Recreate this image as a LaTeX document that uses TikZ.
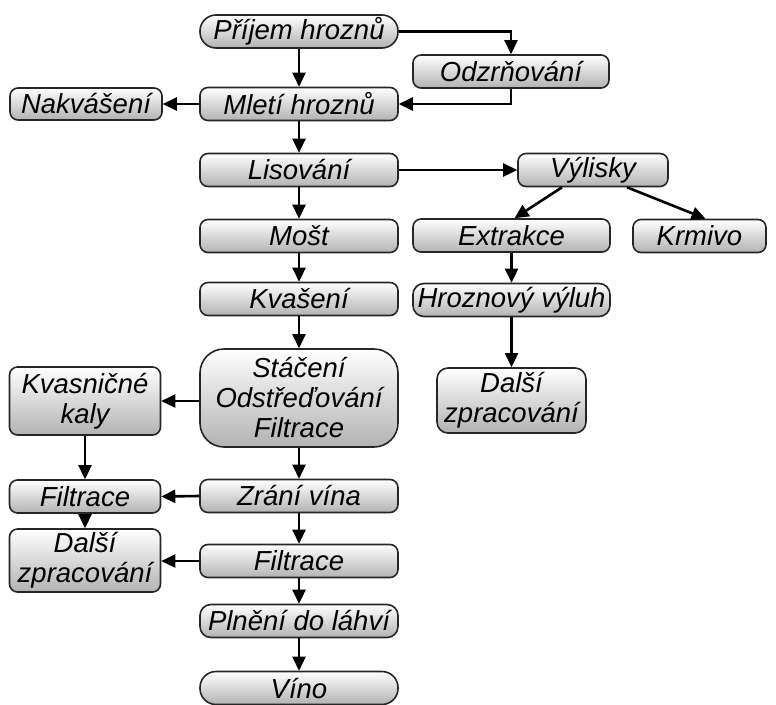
\documentclass[tikz,border=0pt]{standalone}
\usepackage{fontspec}
\setmainfont{Liberation Sans}
\usetikzlibrary{arrows.meta}
\begin{document}
\begin{tikzpicture}[x=1pt,y=-1pt,
  box/.style={draw=black!85, line width=1.6pt, rounded corners=8pt,
    top color=white, bottom color=gray!60, inner sep=0pt, align=center,
    font=\fontsize{27.5}{30}\selectfont\itshape},
  mainbox/.style={box, minimum width=198pt, minimum height=33pt},
  arr/.style={line width=2.6pt, -{Triangle[length=14pt,width=13pt]}}]
\useasboundingbox (0,0) rectangle (776,704);
% main column
\node[mainbox, rounded corners=16pt] (prijem) at (299,31.5) {Příjem hroznů};
\node[mainbox] (mleti) at (299,104) {Mletí hroznů};
\node[mainbox] (lis) at (299,170) {Lisování};
\node[mainbox] (most) at (299,236) {Mošt};
\node[mainbox] (kvas) at (299,299) {Kvašení};
\node[box, minimum width=198pt, minimum height=98pt, rounded corners=24pt] (stac) at (299,398) {Stáčení\\Odstřeďování\\Filtrace};
\node[mainbox] (zrani) at (299,496) {Zrání vína};
\node[mainbox] (filtM) at (299,561) {Filtrace};
\node[mainbox, rounded corners=11pt] (plneni) at (299,621) {Plnění do láhví};
\node[mainbox, rounded corners=16pt] (vino) at (299,688) {Víno};
% right side
\node[box, minimum width=196pt, minimum height=33pt] (odzr) at (511,71.5) {Odzrňování};
\node[box, minimum width=150pt, minimum height=33pt] (vylisky) at (593,170) {Výlisky};
\node[box, minimum width=197pt, minimum height=33pt] (extr) at (511.5,235.5) {Extrakce};
\node[box, minimum width=133pt, minimum height=33pt] (krmivo) at (699.5,236) {Krmivo};
\node[box, minimum width=197pt, minimum height=33pt, rounded corners=11pt] (vyluh) at (511.5,300) {Hroznový výluh};
\node[box, minimum width=149pt, minimum height=65pt, rounded corners=11pt] (dalsiR) at (511.5,400.5) {Další\\zpracování};
% left side
\node[box, minimum width=152pt, minimum height=32pt] (nakv) at (86,104) {Nakvášení};
\node[box, minimum width=151pt, minimum height=68pt] (kvasn) at (85,401) {Kvasničné\\kaly};
\node[box, minimum width=151pt, minimum height=33pt] (filtL) at (85,496.5) {Filtrace};
\node[box, minimum width=151pt, minimum height=63pt] (dalsiL) at (85,560.5) {Další\\zpracování};
% connectors
\draw[arr] (prijem) -- (mleti);
\draw[arr] (prijem.east) -| (odzr.north);
\draw[arr] (odzr.south) |- (mleti.east);
\draw[arr] (mleti.west) -- (nakv.east);
\draw[arr] (mleti) -- (lis);
\draw[arr] (lis.east) -- (vylisky.west);
\draw[arr] ([xshift=-31pt]vylisky.south) -- ([xshift=3pt]extr.north);
\draw[arr] ([xshift=34pt]vylisky.south) -- ([xshift=6pt]krmivo.north);
\draw[arr] (lis) -- (most);
\draw[arr] (most) -- (kvas);
\draw[arr] (kvas) -- (stac);
\draw[arr] (extr) -- (vyluh);
\draw[arr] (vyluh) -- (dalsiR);
\draw[arr] (stac.west |- kvasn.east) -- (kvasn.east);
\draw[arr] (stac) -- (zrani);
\draw[arr] (kvasn) -- (filtL);
\draw[arr] (zrani.west) -- (filtL.east);
\draw[arr] (filtL) -- (dalsiL);
\draw[arr] (zrani) -- (filtM);
\draw[arr] (filtM.west) -- (dalsiL.east |- filtM.west);
\draw[arr] (filtM) -- (plneni);
\draw[arr] (plneni) -- (vino);
\end{tikzpicture}
\end{document}
